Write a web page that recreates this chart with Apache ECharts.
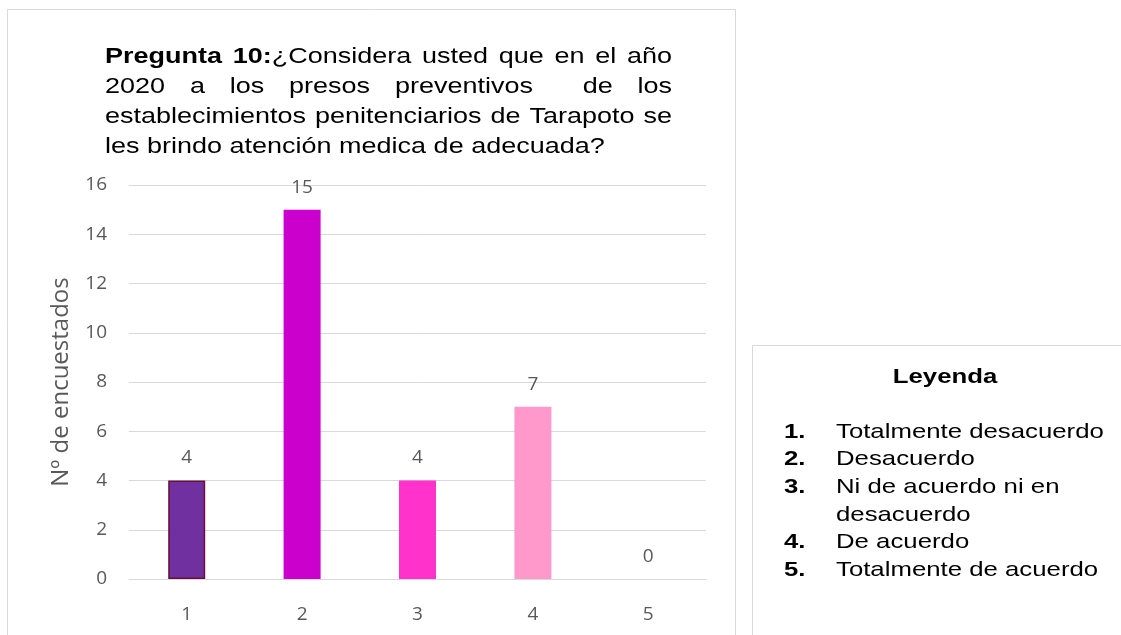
<!DOCTYPE html>
<html>
<head>
<meta charset="utf-8">
<title>Pregunta 10</title>
<script src="https://cdn.jsdelivr.net/npm/echarts@6/dist/echarts.min.js"></script>
<style>
  html, body { margin: 0; padding: 0; background: #ffffff; }
  #grafico { width: 1121px; height: 635px; }
</style>
</head>
<body>
<div id="grafico"></div>
<script>
// datos del gráfico
var categorias = ['1', '2', '3', '4', '5'];
var encuestados = [4, 15, 4, 7, 0];
var ejeYMin = 0;
var ejeYMax = 16;
var ejeYPaso = 2;
var nombreEjeY = 'Nº de encuestados';

// título: palabras por línea, las partes con formato van como [texto, negrita]
var tituloLineas = [
  [[['Pregunta', true]], [['10:', true], ['¿Considera', false]], 'usted', 'que', 'en', 'el', 'año'],
  ['2020', 'a', 'los', 'presos', 'preventivos', '', 'de', 'los'],
  ['establecimientos', 'penitenciarios', 'de', 'Tarapoto', 'se'],
  ['les', 'brindo', 'atención', 'medica', 'de', 'adecuada?']
];

// leyenda
var leyendaTitulo = 'Leyenda';
var leyendaNumeros = ['1.', '2.', '3.', '4.', '5.'];
var leyendaTextos = [
  ['Totalmente desacuerdo'],
  ['Desacuerdo'],
  ['Ni de acuerdo ni en', 'desacuerdo'],
  ['De acuerdo'],
  ['Totalmente de acuerdo']
];

var coloresBarras = ['#7030A0', '#CC00CC', '#FF33CC', '#FF99CC', '#FFCCE5'];

// el texto del original está estirado a lo ancho
var K = 1.227;
var FUENTE = 'Liberation Sans';
var ctx = document.createElement('canvas').getContext('2d');

function ancho(t, negrita, fs) {
  ctx.font = (negrita ? 'bold ' : '') + fs + 'px "' + FUENTE + '"';
  return ctx.measureText(t).width;
}

function texto(t, x, y, negrita, fs, alinear) {
  return {
    type: 'text',
    x: x,
    y: y,
    scaleX: K,
    silent: true,
    z: 10,
    style: {
      text: t,
      fill: '#000000',
      fontFamily: FUENTE,
      fontSize: fs,
      fontWeight: negrita ? 'bold' : 'normal',
      textAlign: alinear || 'left',
      align: alinear || 'left',
      textVerticalAlign: 'middle',
      verticalAlign: 'middle'
    }
  };
}

var graficos = [
  // borde del área del gráfico
  {
    type: 'rect', silent: true,
    shape: { x: 7.5, y: 9.5, width: 728, height: 660 },
    style: { fill: 'none', stroke: '#d9d9d9', lineWidth: 1 }
  },
  // cuadro de la leyenda
  {
    type: 'rect', silent: true,
    shape: { x: 752.5, y: 345.5, width: 420, height: 320 },
    style: { fill: 'none', stroke: '#d9d9d9', lineWidth: 1 }
  }
];

// título justificado
var FS_T = 22, X0 = 105, X1 = 672, Y0 = 57, DY = 30;
tituloLineas.forEach(function (linea, i) {
  var palabras = linea.map(function (p) {
    return typeof p === 'string' ? [[p, false]] : p;
  });
  var anchos = palabras.map(function (segs) {
    return segs.reduce(function (s, g) { return s + ancho(g[0], g[1], FS_T); }, 0) * K;
  });
  var total = anchos.reduce(function (a, b) { return a + b; }, 0);
  var justificar = i < tituloLineas.length - 1;
  var hueco = justificar ? (X1 - X0 - total) / (palabras.length - 1) : ancho(' ', false, FS_T) * K;
  var x = X0;
  palabras.forEach(function (segs, j) {
    var xs = x;
    segs.forEach(function (g) {
      if (g[0]) graficos.push(texto(g[0], xs, Y0 + i * DY, g[1], FS_T));
      xs += ancho(g[0], g[1], FS_T) * K;
    });
    x += anchos[j] + hueco;
  });
});

// leyenda
var FS_L = 21, LY0 = 432, LDY = 27.6;
graficos.push(texto(leyendaTitulo, 945, 377, true, FS_L, 'center'));
var fila = 0;
leyendaNumeros.forEach(function (n, i) {
  graficos.push(texto(n, 784, LY0 + fila * LDY, true, FS_L));
  leyendaTextos[i].forEach(function (t) {
    graficos.push(texto(t, 836, LY0 + fila * LDY, false, FS_L));
    fila++;
  });
});

var grafico = echarts.init(document.getElementById('grafico'));
var opcion = {
  animation: false,
  backgroundColor: '#ffffff',
  grid: { left: 129, right: 415, top: 185, bottom: 56 },
  xAxis: {
    type: 'category',
    data: categorias,
    axisLine: { lineStyle: { color: '#d9d9d9', width: 1 } },
    axisTick: { show: false },
    axisLabel: { color: '#595959', fontSize: 19, fontFamily: 'Open Sans', margin: 26 }
  },
  yAxis: {
    type: 'value',
    min: ejeYMin,
    max: ejeYMax,
    interval: ejeYPaso,
    name: nombreEjeY,
    nameLocation: 'middle',
    nameGap: 56,
    nameTextStyle: { color: '#595959', fontSize: 24, fontFamily: 'Open Sans' },
    axisLine: { show: false },
    axisTick: { show: false },
    axisLabel: { color: '#595959', fontSize: 19, fontFamily: 'Open Sans', margin: 22 },
    splitLine: { lineStyle: { color: '#d9d9d9', width: 1 } }
  },
  series: [
    {
      type: 'bar',
      barWidth: 37,
      data: encuestados.map(function (v, i) {
        var estilo = { color: coloresBarras[i] };
        if (i === 0) {
          estilo.borderColor = '#6B0F3A';
          estilo.borderWidth = 1.5;
        }
        return { value: v, itemStyle: estilo };
      }),
      label: {
        show: true,
        position: 'top',
        distance: 13,
        color: '#595959',
        fontSize: 19,
        fontFamily: 'Open Sans'
      }
    }
  ],
  graphic: graficos
};
grafico.setOption(opcion);
</script>
</body>
</html>
